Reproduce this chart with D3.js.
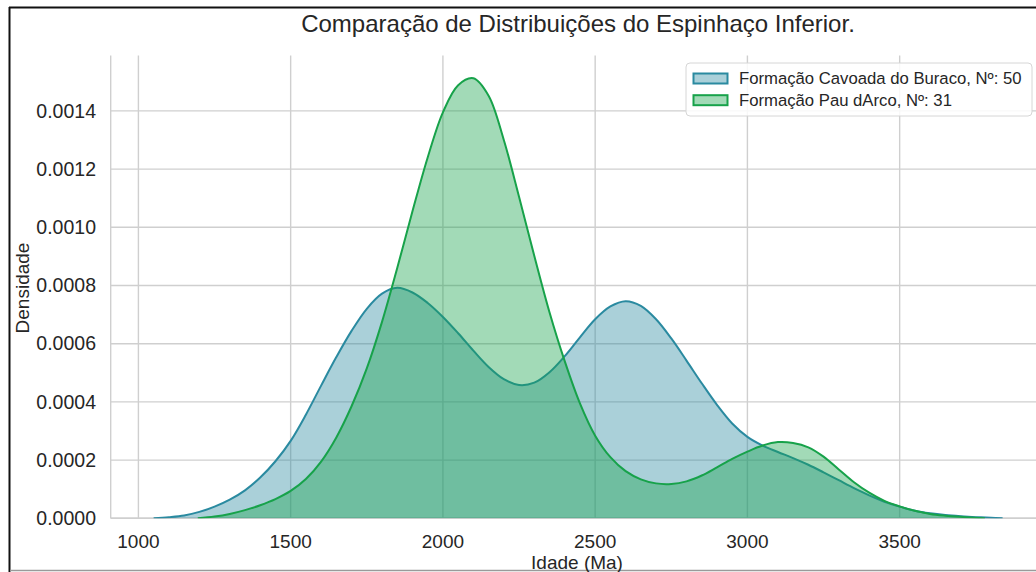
<!DOCTYPE html>
<html>
<head>
<meta charset="utf-8">
<script src="https://cdn.jsdelivr.net/npm/d3@7"></script>
<style>
  html, body { margin: 0; padding: 0; background: #fff; }
  svg { display: block; font-family: "Liberation Sans", Arial, sans-serif; }
</style>
</head>
<body>
<div id="chart"></div>
<script>
// values
const title = "Comparação de Distribuições do Espinhaço Inferior.";
const xLabel = "Idade (Ma)";
const yLabel = "Densidade";
const xTicks = [1000, 1500, 2000, 2500, 3000, 3500];
const yTicks = [0, 0.0002, 0.0004, 0.0006, 0.0008, 0.0010, 0.0012, 0.0014];
const seriesNames = ["Formação Cavoada do Buraco, Nº: 50", "Formação Pau dArco, Nº: 31"];

const cavoadaAge = [1050, 1100, 1150, 1200, 1250, 1300, 1350, 1400, 1450, 1500, 1550, 1600, 1650, 1700, 1750, 1800, 1850, 1900, 1950, 2000,
  2050, 2100, 2150, 2200, 2250, 2300, 2350, 2400, 2450, 2500, 2550, 2600, 2650, 2700, 2750, 2800, 2850, 2900, 2950, 3000,
  3050, 3100, 3150, 3200, 3250, 3300, 3350, 3400, 3450, 3500, 3550, 3600, 3650, 3700, 3750, 3800, 3838];
const cavoadaDens = [0, 0.000004, 0.000010, 0.000022, 0.000040, 0.000064, 0.000096, 0.000140, 0.000196, 0.000266, 0.000356, 0.000456, 0.000554, 0.000644, 0.000720, 0.000772, 0.000792, 0.000776, 0.000740, 0.000692,
  0.000636, 0.000576, 0.000520, 0.000478, 0.000458, 0.000466, 0.000502, 0.000557, 0.000622, 0.000684, 0.000728, 0.000746, 0.000730, 0.000684, 0.000618, 0.000542, 0.000464, 0.000390, 0.000326, 0.000280,
  0.000250, 0.000228, 0.000207, 0.000184, 0.000158, 0.000131, 0.000104, 0.000079, 0.000057, 0.000040, 0.000026, 0.000017, 0.000011, 0.000007, 0.000004, 0.000002, 0];

const pauAge = [1195, 1250, 1300, 1350, 1400, 1450, 1500, 1550, 1600, 1650, 1700, 1750, 1800, 1850, 1900, 1950, 2000,
  2050, 2100, 2150, 2200, 2250, 2300, 2350, 2400, 2450, 2500, 2550, 2600, 2650, 2700, 2750, 2800, 2850, 2900, 2950, 3000,
  3050, 3100, 3150, 3200, 3250, 3300, 3350, 3400, 3450, 3500, 3550, 3600, 3650, 3700, 3750, 3780];
const pauDens = [0, 0.000006, 0.000015, 0.000028, 0.000045, 0.000066, 0.000094, 0.000135, 0.000195, 0.000278, 0.000385, 0.000515, 0.000675, 0.000860, 0.001055, 0.001240, 0.001395,
  0.001488, 0.001512, 0.001452, 0.001300, 0.001105, 0.000902, 0.000708, 0.000540, 0.000395, 0.000284, 0.000210, 0.000162, 0.000134, 0.000120, 0.000118, 0.000127, 0.000147, 0.000175, 0.000204, 0.000229,
  0.000250, 0.000262, 0.000259, 0.000244, 0.000212, 0.000168, 0.000124, 0.000088, 0.000060, 0.000041, 0.000026, 0.000015, 0.000009, 0.000005, 0.000002, 0];

const colors = ["#2a8aa0", "#17a24a"];

const W = 1036, H = 572;
const plot = { left: 110.7, right: 1044, top: 55.6, bottom: 518.3 };

const svg = d3.select("#chart").append("svg")
  .attr("width", W).attr("height", H);

const x = d3.scaleLinear().domain([909, 3974]).range([plot.left, plot.right]);
const y = d3.scaleLinear().domain([0, 0.00159]).range([plot.bottom, plot.top]);

// outer frame of the screenshot
svg.append("line").attr("x1", 9.5).attr("x2", 9.5).attr("y1", 7).attr("y2", H)
  .attr("stroke", "#111").attr("stroke-width", 2);
svg.append("line").attr("x1", 9).attr("x2", W).attr("y1", 7.5).attr("y2", 7.5)
  .attr("stroke", "#111").attr("stroke-width", 2);
svg.append("line").attr("x1", 10).attr("x2", W).attr("y1", 570.5).attr("y2", 570.5)
  .attr("stroke", "#9a9a9a").attr("stroke-width", 1.5);

const g = svg.append("g");
g.append("defs").append("clipPath").attr("id", "clip")
  .append("rect").attr("x", plot.left).attr("y", plot.top)
  .attr("width", plot.right - plot.left).attr("height", plot.bottom - plot.top);

// grid
g.selectAll(".vgrid").data(xTicks).enter().append("line")
  .attr("x1", d => x(d)).attr("x2", d => x(d))
  .attr("y1", plot.top).attr("y2", plot.bottom)
  .attr("stroke", "#cfcfcf").attr("stroke-width", 1.4);
g.selectAll(".hgrid").data(yTicks).enter().append("line")
  .attr("x1", plot.left).attr("x2", plot.right)
  .attr("y1", d => y(d)).attr("y2", d => y(d))
  .attr("stroke", "#cfcfcf").attr("stroke-width", 1.4);
// spines
g.append("line").attr("x1", plot.left).attr("x2", plot.left).attr("y1", plot.top).attr("y2", plot.bottom)
  .attr("stroke", "#cfcfcf").attr("stroke-width", 1.4);
g.append("line").attr("x1", plot.left).attr("x2", plot.right).attr("y1", plot.bottom).attr("y2", plot.bottom)
  .attr("stroke", "#cfcfcf").attr("stroke-width", 1.4);

// densities
const series = [
  { name: seriesNames[0], color: colors[0], pts: cavoadaAge.map((a, i) => [a, cavoadaDens[i]]) },
  { name: seriesNames[1], color: colors[1], pts: pauAge.map((a, i) => [a, pauDens[i]]) }
];
const curve = d3.curveCatmullRom.alpha(0.5);
const area = d3.area().curve(curve)
  .x(d => x(d[0])).y0(y(0)).y1(d => y(Math.max(0, d[1])));
const line = d3.line().curve(curve)
  .x(d => x(d[0])).y(d => y(d[1]));

const marks = g.append("g").attr("clip-path", "url(#clip)");
series.forEach(s => {
  marks.append("path").attr("d", area(s.pts))
    .attr("fill", s.color).attr("fill-opacity", 0.4);
  marks.append("path").attr("d", line(s.pts))
    .attr("fill", "none").attr("stroke", s.color).attr("stroke-width", 2);
});

// tick labels
const fmt = d3.format(".4f");
g.selectAll(".xt").data(xTicks).enter().append("text")
  .attr("x", d => x(d)).attr("y", 548)
  .attr("text-anchor", "middle").attr("font-size", 19).attr("fill", "#262626")
  .text(d => d);
g.selectAll(".yt").data(yTicks).enter().append("text")
  .attr("x", 96).attr("y", d => y(d) + 6.8)
  .attr("text-anchor", "end").attr("font-size", 19.5).attr("fill", "#262626")
  .text(d => fmt(d));

// axis labels and title
svg.append("text").attr("x", 577).attr("y", 569)
  .attr("text-anchor", "middle").attr("font-size", 19).attr("fill", "#262626")
  .text(xLabel);
svg.append("text").attr("transform", "translate(29,288) rotate(-90)")
  .attr("text-anchor", "middle").attr("font-size", 19).attr("fill", "#262626")
  .text(yLabel);
svg.append("text").attr("x", 578).attr("y", 32)
  .attr("text-anchor", "middle").attr("font-size", 24).attr("fill", "#262626")
  .text(title);

// legend
const leg = svg.append("g");
leg.append("rect").attr("x", 686).attr("y", 63).attr("width", 346).attr("height", 53)
  .attr("rx", 4).attr("fill", "#fff").attr("fill-opacity", 0.85)
  .attr("stroke", "#d6d6d6").attr("stroke-width", 1);
series.forEach((s, i) => {
  const cy = 78.5 + i * 21.7;
  leg.append("rect").attr("x", 693.5).attr("y", cy - 5).attr("width", 34).attr("height", 10)
    .attr("fill", s.color).attr("fill-opacity", 0.4)
    .attr("stroke", s.color).attr("stroke-width", 2);
  leg.append("text").attr("x", 739).attr("y", cy + 5.5)
    .attr("font-size", 16.7).attr("fill", "#262626").text(s.name);
});
</script>
</body>
</html>
